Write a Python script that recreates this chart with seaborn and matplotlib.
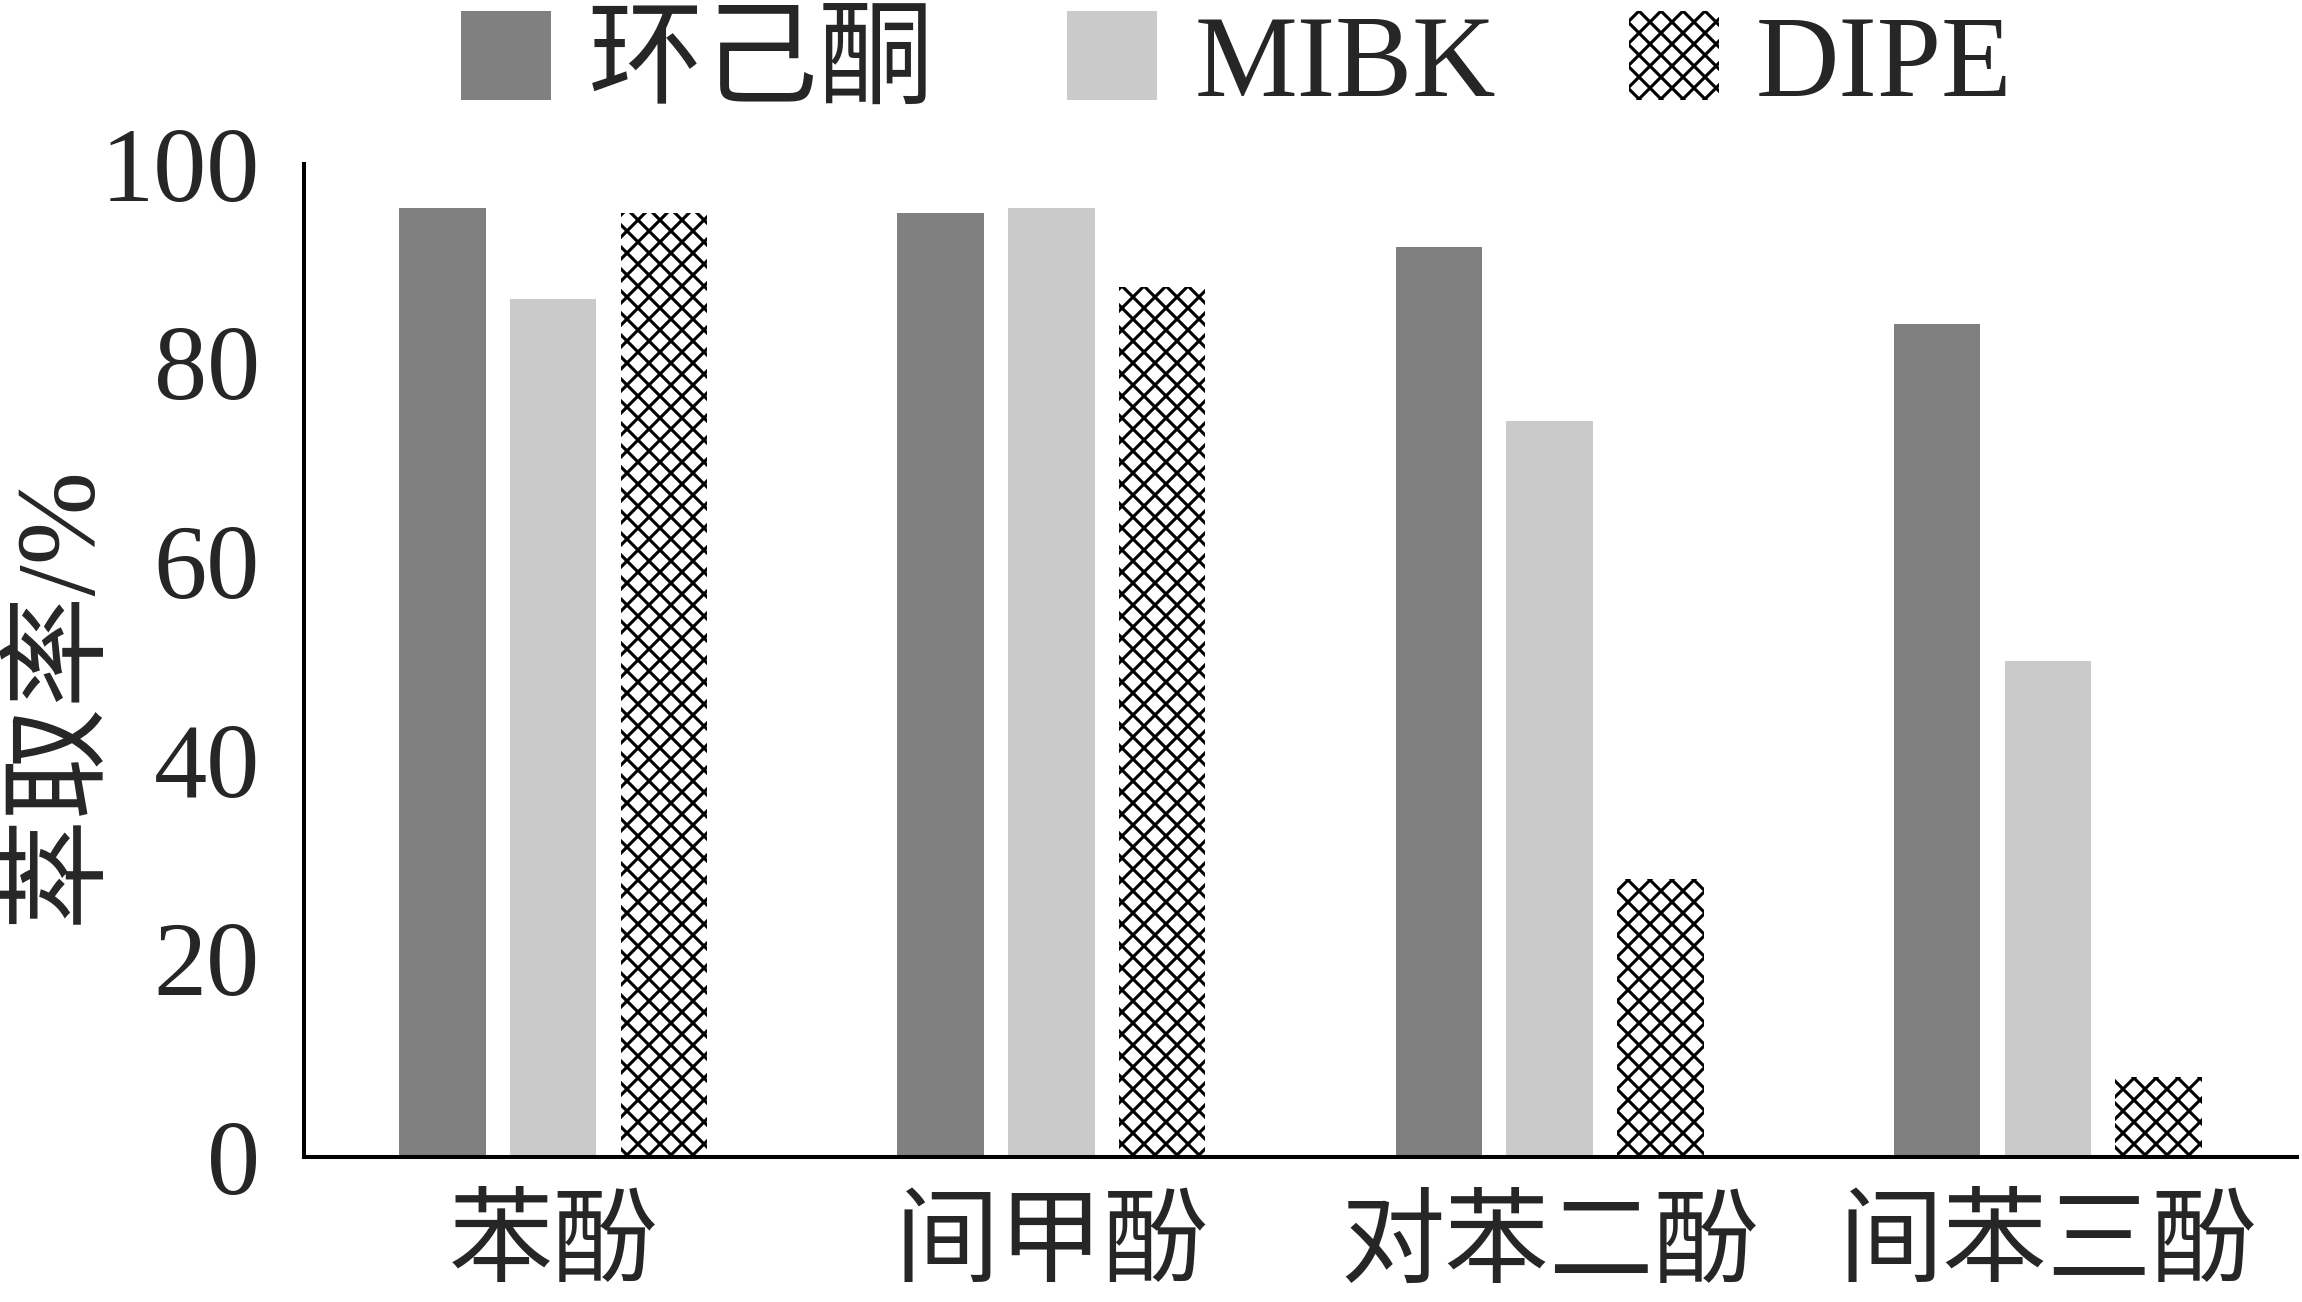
import matplotlib
matplotlib.use("Agg")
import matplotlib.pyplot as plt
import seaborn as sns
import pandas as pd

categories = ["苯酚", "间甲酚", "对苯二酚", "间苯三酚"]
solvents = ["环己酮", "MIBK", "DIPE"]
vals_cyclohexanone = [95.6, 95.1, 91.6, 83.9]
vals_mibk = [86.4, 95.6, 74.1, 49.9]
vals_dipe = [95.1, 87.6, 28.0, 8.1]
yticks = [0, 20, 40, 60, 80, 100]
ylabel = "萃取率/%"

rows = []
for s, vals in zip(solvents, [vals_cyclohexanone, vals_mibk, vals_dipe]):
    for c, v in zip(categories, vals):
        rows.append({"cat": c, "solvent": s, "val": v})
df = pd.DataFrame(rows)

sns.set_style("white")
plt.rcParams["font.family"] = ["Liberation Serif", "Noto Sans CJK SC"]
plt.rcParams["hatch.linewidth"] = 1.7
plt.rcParams["hatch.color"] = "black"

DPI = 132
fig = plt.figure(figsize=(2302 / DPI, 1302 / DPI), dpi=DPI)
ax = fig.add_axes([304 / 2302, 1 - 1157 / 1302, 1993 / 2302, 993 / 1302])

palette = {"环己酮": "#808080", "MIBK": "#CACACA", "DIPE": "white"}
sns.barplot(data=df, x="cat", y="val", hue="solvent", order=categories,
            hue_order=solvents, palette=palette, width=0.667, gap=0.218,
            ax=ax, legend=False, saturation=1, linewidth=0)

for bar in ax.containers[2]:
    bar.set_hatch("xx")
    bar.set_edgecolor("black")
    bar.set_linewidth(0)
    bar.set_facecolor("white")

ax.set_xlim(-0.5, 3.5)
ax.set_ylim(0, 100)
ax.set_yticks(yticks)
ax.set_xticks(range(len(categories)))
ax.set_xticklabels(categories)
ax.set_xticks([0.5, 1.5, 2.5, 3.5], minor=True)
ax.tick_params(axis="x", which="major", length=0, pad=24, labelsize=57)
ax.tick_params(axis="x", which="minor", direction="in", length=21, width=1.6, color="black")
ax.tick_params(axis="y", direction="in", length=21, width=1.6, color="black", pad=24, labelsize=58)
for sp in ["top", "right"]:
    ax.spines[sp].set_visible(False)
for sp in ["left", "bottom"]:
    ax.spines[sp].set_linewidth(2.2)
    ax.spines[sp].set_color("black")

ax.set_xlabel("")
ax.set_ylabel(ylabel, fontsize=61)
ax.yaxis.set_label_coords(-0.096, 0.466)

handles = [ax.containers[i][0] for i in range(3)]
fig.legend(handles, solvents, loc="center", bbox_to_anchor=(0.5372, 1 - 66 / 1302),
           ncol=3, frameon=False, fontsize=63, handlelength=0.78, handleheight=0.8,
           handletextpad=0.32, columnspacing=1.15, borderpad=0, borderaxespad=0)

fig.savefig("out.png", dpi=DPI, facecolor="white")
